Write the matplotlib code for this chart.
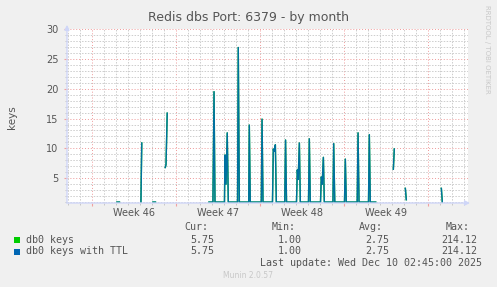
import numpy as np
import matplotlib
matplotlib.use("Agg")
import matplotlib.pyplot as plt
from matplotlib.patches import Rectangle

# time in days since the start of week 46, NaN = no data
days = [2.08, 2.29, np.nan,
        4.08, 4.15, np.nan,
        5.08, 5.29, np.nan,
        6.11, 6.17, 6.27, np.nan,
        9.75, 10.08, 10.17, 10.25, 11.04, 11.08, 11.17, 11.27, 11.36,
        12.13, 12.19, 12.28, 13.06, 13.11, 13.19, 14.11, 14.17, 14.25,
        15.04, 15.11, 15.19, 15.28, 15.36, 16.06, 16.13, 16.21,
        17.04, 17.11, 17.18, 17.28, 17.36, 18.04, 18.11, 18.19,
        19.04, 19.11, 19.18, 19.28, 19.36, 20.08, 20.14, 20.23,
        21.04, 21.11, 21.19, 22.10, 22.17, 22.25, 23.04, 23.11, 23.19, 23.64, np.nan,
        25.11, 25.19, np.nan,
        26.11, 26.19, np.nan,
        29.11, 29.19]
keys = [1, 1, np.nan,
        1, 10.9, np.nan,
        1, 1, np.nan,
        6.8, 7.3, 15.9, np.nan,
        1, 1, 19.5, 1, 1, 8.9, 4.0, 12.6, 1,
        1, 26.9, 1, 1, 13.9, 1, 1, 14.9, 1,
        1, 9.9, 9.5, 10.6, 1, 1, 11.4, 1,
        1, 6.4, 4.8, 10.9, 1, 1, 11.6, 1,
        1, 5.2, 4.0, 8.5, 1, 1, 10.8, 1,
        1, 8.2, 1, 1, 12.6, 1, 1, 12.3, 1, 1, np.nan,
        6.5, 9.9, np.nan,
        3.3, 1.4, np.nan,
        3.3, 1.0]
keys_ttl = list(keys)

week_starts = [0, 7, 14, 21, 28]
week_labels = ["Week 46", "Week 47", "Week 48", "Week 49"]
series_names = ["db0 keys", "db0 keys with TTL"]
series_colors = ["#00CC00", "#0066B3"]
cur = ["5.75", "5.75"]
vmin = ["1.00", "1.00"]
avg = ["2.75", "2.75"]
vmax = ["214.12", "214.12"]

W, H = 497, 287
def fx(x):
    return x / W
def fy(y):
    return 1 - y / H

fig = plt.figure(figsize=(W / 100, H / 100), dpi=100, facecolor="#F0F0F0")
ax = fig.add_axes([fx(67), fy(203), fx(468 - 67), (203 - 29) / H])
ax.set_facecolor("white")

ax.plot(days, keys, color=series_colors[0], lw=1.0)
ax.plot(days, keys_ttl, color=series_colors[1], lw=1.0, alpha=0.9)

ax.set_xlim(-2.08, 31.33)
ax.set_ylim(0.85, 30)

ax.set_xticks(week_starts)
ax.set_xticklabels([])
ax.set_xticks(np.arange(-2, 32), minor=True)
ax.set_yticks([5, 10, 15, 20, 25, 30])
ax.set_yticks(np.arange(1, 31), minor=True)
ax.tick_params(axis="both", which="major", length=2, color="#F0A0A0",
               labelsize=7, labelcolor="#555555", pad=4)
ax.tick_params(axis="both", which="minor", length=1.5, color="#C0C0C0")
ax.grid(which="minor", color="#CDCDCD", lw=0.7, ls=(0, (1.5, 1.5)))
ax.grid(which="major", color="#EE9A9A", lw=0.7, ls=(0, (1, 2)))
ax.set_axisbelow(True)
for s in ax.spines.values():
    s.set_visible(False)

# axis lines with arrows
arrow = dict(arrowstyle="-|>", color="#CFD6F8", lw=1.0, mutation_scale=7)
ax.annotate("", xy=(1.012, 0), xytext=(-0.008, 0), xycoords="axes fraction",
            arrowprops=arrow, annotation_clip=False)
ax.annotate("", xy=(0, 1.04), xytext=(0, -0.01), xycoords="axes fraction",
            arrowprops=arrow, annotation_clip=False)

for i, lab in enumerate(week_labels):
    ax.text(week_starts[i] + 3.5, -0.055, lab, transform=ax.get_xaxis_transform(),
            ha="center", va="center", fontsize=7, color="#555555")

fig.text(fx(248), fy(17), "Redis dbs Port: 6379 - by month", ha="center", va="center",
         fontsize=9, color="#555555")
fig.text(fx(12), fy(117), "keys", rotation=90, ha="center", va="center",
         fontsize=7.5, color="#555555")
fig.text(fx(487), fy(5), "RRDTOOL / TOBI OETIKER", rotation=270, ha="center", va="top",
         fontsize=5, color="#C8C8C8")

mono = "DejaVu Sans Mono"
fs = 7.2
tc = "#555555"
for x, h in zip([208, 296, 383, 470], ["Cur:", "Min:", "Avg:", "Max:"]):
    fig.text(fx(x), fy(227), h, ha="right", va="center", family=mono, fontsize=fs, color=tc)
for i, name in enumerate(series_names):
    y = 240 + i * 11.5
    fig.patches.append(Rectangle((fx(14), fy(y + 3)), 6 / W, 6 / H, transform=fig.transFigure,
                                 facecolor=series_colors[i], edgecolor="none"))
    fig.text(fx(26), fy(y), name, ha="left", va="center", family=mono, fontsize=fs, color=tc)
    for x, v in zip([214, 302, 389, 477], [cur[i], vmin[i], avg[i], vmax[i]]):
        fig.text(fx(x), fy(y), v, ha="right", va="center", family=mono, fontsize=fs, color=tc)
fig.text(fx(482), fy(263), "Last update: Wed Dec 10 02:45:00 2025", ha="right", va="center",
         family=mono, fontsize=fs, color=tc)
fig.text(fx(248), fy(276), "Munin 2.0.57", ha="center", va="center", fontsize=5.5,
         color="#C8C8C8")

fig.savefig("out.png", dpi=100, facecolor=fig.get_facecolor())
